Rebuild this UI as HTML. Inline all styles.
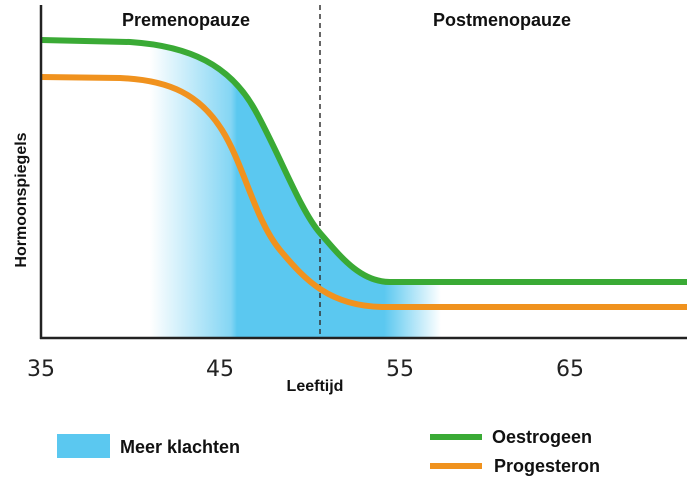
<!DOCTYPE html>
<html><head><meta charset="utf-8"><style>
html,body{margin:0;padding:0;background:#fff;}
svg{display:block;font-family:"Liberation Sans",sans-serif;}
</style></head><body>
<svg width="687" height="479" viewBox="0 0 687 479">
<defs>
<linearGradient id="bg" x1="150" x2="450" y1="0" y2="0" gradientUnits="userSpaceOnUse">
<stop offset="0" stop-color="#5bc8f0" stop-opacity="0"/>
<stop offset="0.27" stop-color="#5bc8f0" stop-opacity="0.75"/>
<stop offset="0.29" stop-color="#5bc8f0" stop-opacity="1"/>
<stop offset="0.78" stop-color="#5bc8f0" stop-opacity="1"/>
<stop offset="0.97" stop-color="#5bc8f0" stop-opacity="0"/>
</linearGradient>
</defs>
<path d="M130,42 C190,46 230,65 255,110 S300,210 320,233 S360,282 390,282 L450,282 L450,338 L130,338 Z" fill="url(#bg)"/>
<line x1="320" y1="5" x2="320" y2="338" stroke="#333" stroke-width="1.5" stroke-dasharray="5,4"/>
<path d="M41,40 L130,42 C190,46 230,65 255,110 S300,210 320,233 S360,282 390,282 L687,282" fill="none" stroke="#3aaa35" stroke-width="6"/>
<path d="M41,77 L120,78 C170,80 200,95 222,130 S255,220 280,250 S330,307 385,307 L687,307" fill="none" stroke="#f0921e" stroke-width="6"/>
<line x1="41" y1="5" x2="41" y2="339" stroke="#222" stroke-width="2.5"/>
<line x1="40" y1="338" x2="687" y2="338" stroke="#222" stroke-width="2.5"/>
<text x="186" y="26" font-size="18" font-weight="bold" text-anchor="middle" fill="#111">Premenopauze</text>
<text x="502" y="26" font-size="18" font-weight="bold" text-anchor="middle" fill="#111">Postmenopauze</text>
<g font-size="22" fill="#222" text-anchor="middle" font-family="DejaVu Sans, sans-serif">
<text x="41" y="376">35</text><text x="220" y="376">45</text><text x="400" y="376">55</text><text x="570" y="376">65</text>
</g>
<text x="315" y="391" font-size="16" font-weight="bold" text-anchor="middle" fill="#111">Leeftijd</text>
<text transform="translate(26,200) rotate(-90)" font-size="16" font-weight="bold" text-anchor="middle" fill="#111">Hormoonspiegels</text>
<rect x="57" y="434" width="53" height="24" fill="#5bc8f0"/>
<text x="120" y="453" font-size="18" font-weight="bold" fill="#111">Meer klachten</text>
<line x1="430" y1="437" x2="482" y2="437" stroke="#3aaa35" stroke-width="6"/>
<line x1="430" y1="466" x2="482" y2="466" stroke="#f0921e" stroke-width="6"/>
<text x="492" y="443" font-size="18" font-weight="bold" fill="#111">Oestrogeen</text>
<text x="494" y="472" font-size="18" font-weight="bold" fill="#111">Progesteron</text>
</svg>
</body></html>
